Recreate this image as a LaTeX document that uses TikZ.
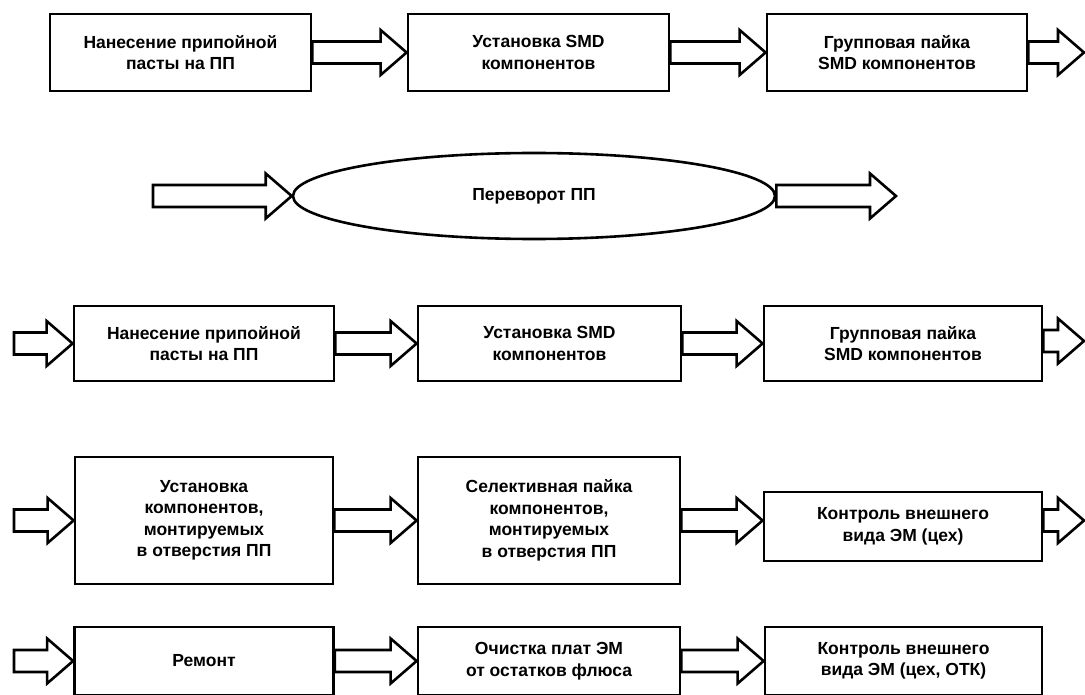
\documentclass[tikz,border=0pt]{standalone}
\usepackage{fontspec}
\setmainfont{Liberation Sans}
\usetikzlibrary{calc,shapes.geometric}
\begin{document}
\begin{tikzpicture}[x=1pt,y=-1pt,
  txt/.style={font=\bfseries\fontsize{17.5}{21.5}\selectfont, align=center},
  procbox/.style={txt, draw, line width=2.8pt, inner sep=0pt, minimum height=#1},
  blk/.style={to path={let \p1=(\tikztostart), \p2=(\tikztotarget) in
    (\x1,\y2+11pt) -- (\x2-26pt,\y2+11pt) -- (\x2-26pt,\y2+22.5pt) -- (\x2,\y2)
    -- (\x2-26pt,\y2-22.5pt) -- (\x2-26pt,\y2-11pt) -- (\x1,\y2-11pt) -- cycle}},
  arr/.style={draw, line width=2.6pt, line join=miter}
]
\useasboundingbox (0,0) rectangle (1085,695);

% Row 1
\node[procbox=77, minimum width=261] (b11) at (180.5,52.5) {Нанесение припойной\\пасты на ПП};
\node[procbox=77, minimum width=261] (b12) at (538.5,52.5) {Установка SMD\\компонентов};
\node[procbox=77, minimum width=260] (b13) at (897,52.5) {Групповая пайка\\SMD компонентов};
\coordinate (o1) at (1084,52.5);

% Row 2
\coordinate (i2) at (153,196);
\node[txt, draw, ellipse, line width=2.6pt, inner sep=0pt, minimum width=482, minimum height=86] (e) at (534,196) {Переворот ПП};
\coordinate (o2) at (896,196);

% Row 3
\coordinate (i3) at (14,341);
\node[procbox=75, minimum width=260] (b31) at (204,343.5) {Нанесение припойной\\пасты на ПП};
\node[procbox=75, minimum width=263] (b32) at (549.5,343.5) {Установка SMD\\компонентов};
\node[procbox=75, minimum width=278] (b33) at (903,343.5) {Групповая пайка\\SMD компонентов};
\coordinate (o3) at (1084,341);

% Row 4
\coordinate (i4) at (14,520.5);
\node[procbox=127, minimum width=258] (b41) at (204,520.5) {Установка\\компонентов,\\монтируемых\\в отверстия ПП};
\node[procbox=127, minimum width=262] (b42) at (549,520.5) {Селективная пайка\\компонентов,\\монтируемых\\в отверстия ПП};
\node[procbox=69, minimum width=278] (b43) at (903,526.5) {Контроль внешнего\\вида ЭМ (цех)};
\coordinate (o4) at (1084,520.5);

% Row 5
\coordinate (i5) at (14,662);
\node[procbox=68, minimum width=259] (b51) at (204,661) {Ремонт};
\node[procbox=68, minimum width=262] (b52) at (549,661) {Очистка плат ЭМ\\от остатков флюса};
\node[procbox=68, minimum width=277] (b53) at (903.5,661) {Контроль внешнего\\вида ЭМ (цех, ОТК)};

% Arrows
\path[arr] (b11.east) to[blk] (b12.west);
\path[arr] (b12.east) to[blk] (b13.west);
\path[arr] (b13.east) to[blk] (o1);

\path[arr] (i2) to[blk] (e.west);
\path[arr] (e.east) to[blk] (o2);

\path[arr] (i3) to[blk] (b31.west);
\path[arr] (b31.east) to[blk] (b32.west);
\path[arr] (b32.east) to[blk] (b33.west);
\path[arr] (b33.east) to[blk] (o3);

\path[arr] (i4) to[blk] (b41.west);
\path[arr] (b41.east) to[blk] (b42.west);
\path[arr] (b42.east) to[blk] (b42.east -| b43.west);
\path[arr] (b43.east) to[blk] (o4);

\path[arr] (i5) to[blk] (b51.west);
\path[arr] (b51.east) to[blk] (b52.west);
\path[arr] (b52.east) to[blk] (b53.west);
\end{tikzpicture}
\end{document}
